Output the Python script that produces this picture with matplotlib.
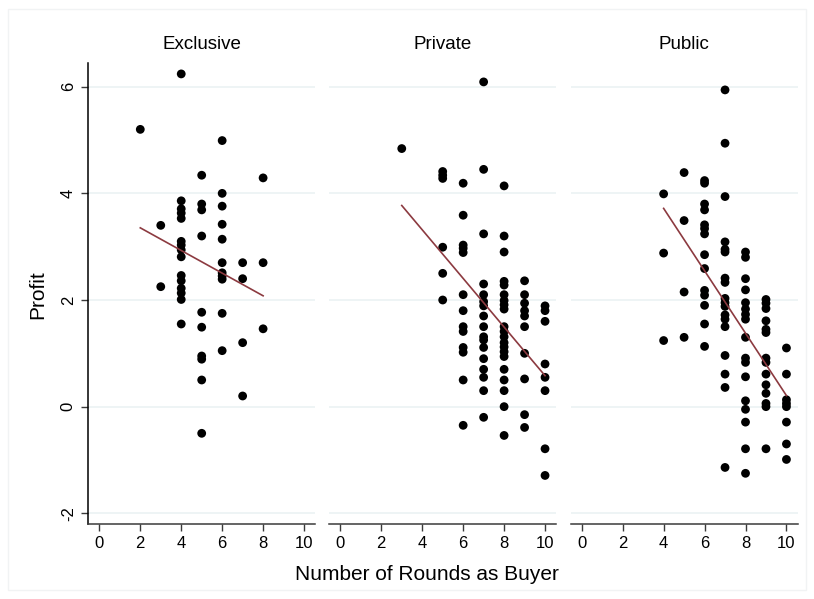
import numpy as np
import matplotlib
matplotlib.use("Agg")
import matplotlib.pyplot as plt
from matplotlib.patches import Rectangle

plt.rcParams['font.family'] = ['Liberation Sans', 'DejaVu Sans']

panel_titles = ["Exclusive", "Private", "Public"]

exc_x = [4, 2, 6, 5, 8, 6, 4, 4, 4, 4, 5, 5, 6, 3, 6, 5, 6, 4, 4, 4, 4,
         6, 7, 8, 6, 6, 6, 7, 4, 4, 4, 4, 4, 3, 5, 6, 4, 5, 8, 7, 6, 5, 5, 5, 7, 5]
exc_y = [6.24, 5.2, 4.99, 4.34, 4.29, 4.0, 3.86, 3.71, 3.63, 3.53, 3.8, 3.69, 3.76, 3.4, 3.42,
         3.2, 3.14, 3.1, 3.03, 2.94, 2.81, 2.7, 2.7, 2.7, 2.51, 2.45, 2.39, 2.4, 2.46, 2.36,
         2.22, 2.13, 2.01, 2.25, 1.77, 1.75, 1.55, 1.49, 1.46, 1.2, 1.05, 0.95, 0.89, 0.5, 0.2, -0.5]

pri_x = ([7, 3, 5, 5, 5, 7, 8, 7, 8, 5, 8, 5, 5]
         + [6] * 13
         + [7] * 14
         + [8] * 18
         + [9] * 10
         + [10] * 8)
pri_y = ([6.09, 4.84, 4.41, 4.34, 4.28, 4.45, 4.14, 3.24, 3.2, 2.99, 2.9, 2.5, 2.0]
         + [4.19, 3.59, 3.03, 2.97, 2.89, 2.1, 1.8, 1.5, 1.41, 1.11, 1.02, 0.5, -0.35]
         + [2.3, 2.1, 1.97, 1.89, 1.7, 1.5, 1.31, 1.25, 1.11, 0.9, 0.7, 0.55, 0.3, -0.2]
         + [2.35, 2.28, 2.1, 1.99, 1.91, 1.83, 1.5, 1.41, 1.31, 1.2, 1.12, 1.03, 0.94, 0.7,
            0.5, 0.3, 0.0, -0.54]
         + [2.36, 2.1, 1.94, 1.8, 1.7, 1.5, 1.0, 0.52, -0.15, -0.39]
         + [1.89, 1.8, 1.6, 0.8, 0.55, 0.3, -0.79, -1.29])

pub_x = ([7] * 18 + [4] * 3 + [5] * 4 + [6] * 14 + [8] * 17 + [9] * 14 + [10] * 8)
pub_y = ([5.94, 4.94, 3.94, 3.09, 2.95, 2.9, 2.41, 2.33, 2.03, 1.95, 1.88, 1.72, 1.64, 1.5,
          0.96, 0.61, 0.36, -1.14]
         + [3.99, 2.88, 1.24]
         + [4.39, 3.49, 2.15, 1.3]
         + [4.24, 4.19, 3.8, 3.69, 3.41, 3.34, 3.24, 2.85, 2.59, 2.18, 2.09, 1.9, 1.55, 1.13]
         + [2.9, 2.8, 2.4, 2.19, 1.95, 1.83, 1.73, 1.64, 1.3, 0.91, 0.83, 0.56, 0.11, -0.05,
            -0.29, -0.79, -1.25]
         + [2.01, 1.94, 1.84, 1.61, 1.45, 1.39, 0.91, 0.83, 0.61, 0.41, 0.25, 0.06, 0.0, -0.79]
         + [1.1, 0.61, 0.13, 0.06, 0.0, -0.29, -0.7, -0.99])

xticks = [0, 2, 4, 6, 8, 10]
yticks = [-2, 0, 2, 4, 6]

series = [(exc_x, exc_y), (pri_x, pri_y), (pub_x, pub_y)]

fig = plt.figure(figsize=(8.14, 5.99), dpi=100)
fig.patch.set_facecolor('white')
fig.patches.append(Rectangle((8 / 814, 9 / 599), 1 - 16 / 814, 1 - 18 / 599,
                             transform=fig.transFigure, fill=False,
                             edgecolor='#F1F3F4', linewidth=1))

lefts = [88.3, 329.3, 570.7]
width_px = 227.0
bottom = (599 - 523.7) / 599
height = (523.7 - 63.3) / 599
grid_col = '#E9F1F2'
axis_col = '#3A3A3A'
line_col = '#8C3A40'

for i, (title, (xs, ys)) in enumerate(zip(panel_titles, series)):
    ax = fig.add_axes([lefts[i] / 814, bottom, width_px / 814, height])
    ax.set_xlim(-0.54, 10.55)
    ax.set_ylim(-2.195, 6.439)
    ax.set_yticks(yticks)
    for yv in yticks:
        ax.axhline(yv, color=grid_col, linewidth=1.1, zorder=0)
    xs_a = np.array(xs, dtype=float)
    ys_a = np.array(ys, dtype=float)
    ax.scatter(xs_a, ys_a, s=40, color='black', edgecolors='none', zorder=3)
    b, a = np.polyfit(xs_a, ys_a, 1)
    xl = np.array([xs_a.min(), xs_a.max()])
    ax.plot(xl, a + b * xl, color=line_col, linewidth=1.2, zorder=4)
    ax.set_xticks(xticks)
    ax.set_xticklabels([str(t) for t in xticks], fontsize=12)
    ax.tick_params(axis='x', direction='out', length=5, width=1, color=axis_col, pad=4)
    for s in ['top', 'right']:
        ax.spines[s].set_visible(False)
    ax.spines['bottom'].set_color(axis_col)
    ax.spines['bottom'].set_linewidth(1.1)
    if i == 0:
        ax.spines['left'].set_color('black')
        ax.spines['left'].set_linewidth(1.1)
        ax.tick_params(axis='y', direction='out', length=5, width=1, color=axis_col, pad=4)
        ax.set_yticklabels([str(t) for t in yticks], fontsize=12, rotation=90, va='center')
    else:
        ax.spines['left'].set_visible(False)
        ax.tick_params(axis='y', left=False, labelleft=False)
    ax.set_title(title, fontsize=13.5, pad=10)
    ax.set_facecolor('white')

fig.text(427 / 814, 1 - 574 / 599, "Number of Rounds as Buyer", ha='center', va='center', fontsize=15)
fig.text(38 / 814, 1 - 295 / 599, "Profit", ha='center', va='center', rotation=90, fontsize=15)

fig.savefig("out.png", dpi=100, facecolor='white')
